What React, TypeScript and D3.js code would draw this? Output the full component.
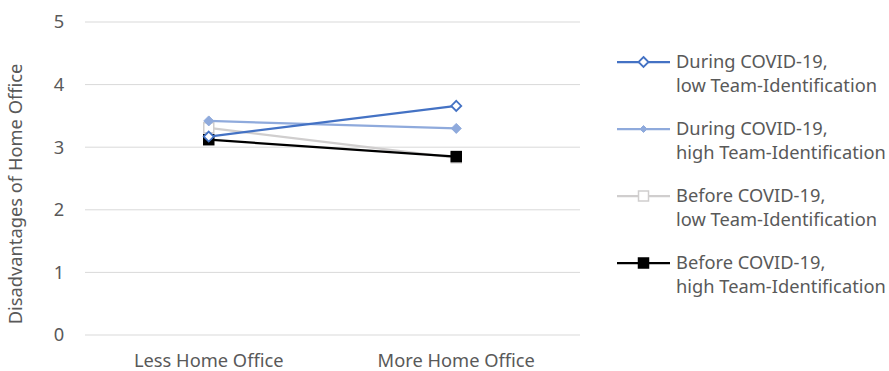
import React, { useEffect, useRef } from "react";
import * as d3 from "d3";

const categories = ["Less Home Office", "More Home Office"];
const yTicks = [0, 1, 2, 3, 4, 5];
const seriesNames = [
  ["During COVID-19,", "low Team-Identification"],
  ["During COVID-19,", "high Team-Identification"],
  ["Before COVID-19,", "low Team-Identification"],
  ["Before COVID-19,", "high Team-Identification"],
];
const duringLow = [3.17, 3.66];
const duringHigh = [3.42, 3.3];
const beforeLow = [3.31, 2.83];
const beforeHigh = [3.12, 2.85];

const seriesValues = [duringLow, duringHigh, beforeLow, beforeHigh];
const colors = ["#4472C4", "#8FAADC", "#D0CECE", "#000000"];
const markers = ["diamondOpen", "diamond", "squareOpen", "square"];

const W = 889;
const H = 371;
const font = "'Noto Sans', sans-serif";
const fs = 18.3;
const textColor = "#595959";

const App = () => {
  const svgRef = useRef<SVGSVGElement>(null);

  useEffect(() => {
    const svg = d3.select(svgRef.current);
    svg.selectAll("*").remove();

    const x = d3.scalePoint().domain(categories).range([85, 580]).padding(0.5);
    const y = d3.scaleLinear().domain([0, 5]).range([335, 22]);

    // gridlines
    svg
      .append("g")
      .selectAll("line")
      .data(yTicks)
      .join("line")
      .attr("x1", 85)
      .attr("x2", 580)
      .attr("y1", (d) => y(d))
      .attr("y2", (d) => y(d))
      .attr("stroke", "#D9D9D9")
      .attr("stroke-width", 1);

    // y labels
    svg
      .append("g")
      .selectAll("text")
      .data(yTicks)
      .join("text")
      .attr("x", 59)
      .attr("y", (d) => y(d))
      .attr("dy", "0.35em")
      .attr("text-anchor", "middle")
      .attr("font-family", font)
      .attr("font-size", fs)
      .attr("fill", textColor)
      .text((d) => d);

    // x labels
    svg
      .append("g")
      .selectAll("text")
      .data(categories)
      .join("text")
      .attr("x", (d) => x(d)!)
      .attr("y", 367)
      .attr("text-anchor", "middle")
      .attr("font-family", font)
      .attr("font-size", fs)
      .attr("fill", textColor)
      .text((d) => d);

    // y title
    svg
      .append("text")
      .attr("transform", `translate(22,194) rotate(-90)`)
      .attr("text-anchor", "middle")
      .attr("font-family", font)
      .attr("font-size", fs)
      .attr("fill", textColor)
      .text("Disadvantages of Home Office");

    const drawMarker = (g: any, kind: string, cx: number, cy: number, color: string, size: number) => {
      if (kind.startsWith("diamond")) {
        const s = size;
        g.append("path")
          .attr("d", `M${cx},${cy - s}L${cx + s},${cy}L${cx},${cy + s}L${cx - s},${cy}Z`)
          .attr("fill", kind === "diamond" ? color : "#fff")
          .attr("stroke", color)
          .attr("stroke-width", kind === "diamond" ? 1 : 1.8);
      } else {
        const s = size;
        g.append("rect")
          .attr("x", cx - s)
          .attr("y", cy - s)
          .attr("width", 2 * s)
          .attr("height", 2 * s)
          .attr("fill", kind === "square" ? color : "#fff")
          .attr("stroke", color)
          .attr("stroke-width", 1.5);
      }
    };

    const line = d3
      .line<number>()
      .x((_, i) => x(categories[i])!)
      .y((d) => y(d));

    const order = [2, 3, 1, 0];
    order.forEach((si) => {
      const g = svg.append("g");
      g.append("path")
        .datum(seriesValues[si])
        .attr("d", line)
        .attr("fill", "none")
        .attr("stroke", colors[si])
        .attr("stroke-width", 2.25);
      seriesValues[si].forEach((v, i) => {
        drawMarker(g, markers[si], x(categories[i])!, y(v), colors[si], 5);
      });
    });

    // legend
    const legY = [62, 129, 196, 263];
    seriesNames.forEach((names, si) => {
      const g = svg.append("g");
      const ly = legY[si];
      g.append("line")
        .attr("x1", 617)
        .attr("x2", 670)
        .attr("y1", ly)
        .attr("y2", ly)
        .attr("stroke", colors[si])
        .attr("stroke-width", 2.25);
      drawMarker(g, markers[si], 643.5, ly, colors[si], si === 1 ? 3.5 : 5);
      names.forEach((t, k) => {
        g.append("text")
          .attr("x", 676)
          .attr("y", ly + k * 24)
          .attr("dy", "0.35em")
          .attr("font-family", font)
          .attr("font-size", fs)
          .attr("fill", textColor)
          .text(t);
      });
    });
  }, []);

  return (
    <svg
      ref={svgRef}
      width={W}
      height={H}
      style={{ position: "absolute", left: 0, top: 0, background: "#fff" }}
    />
  );
};

export default App;
